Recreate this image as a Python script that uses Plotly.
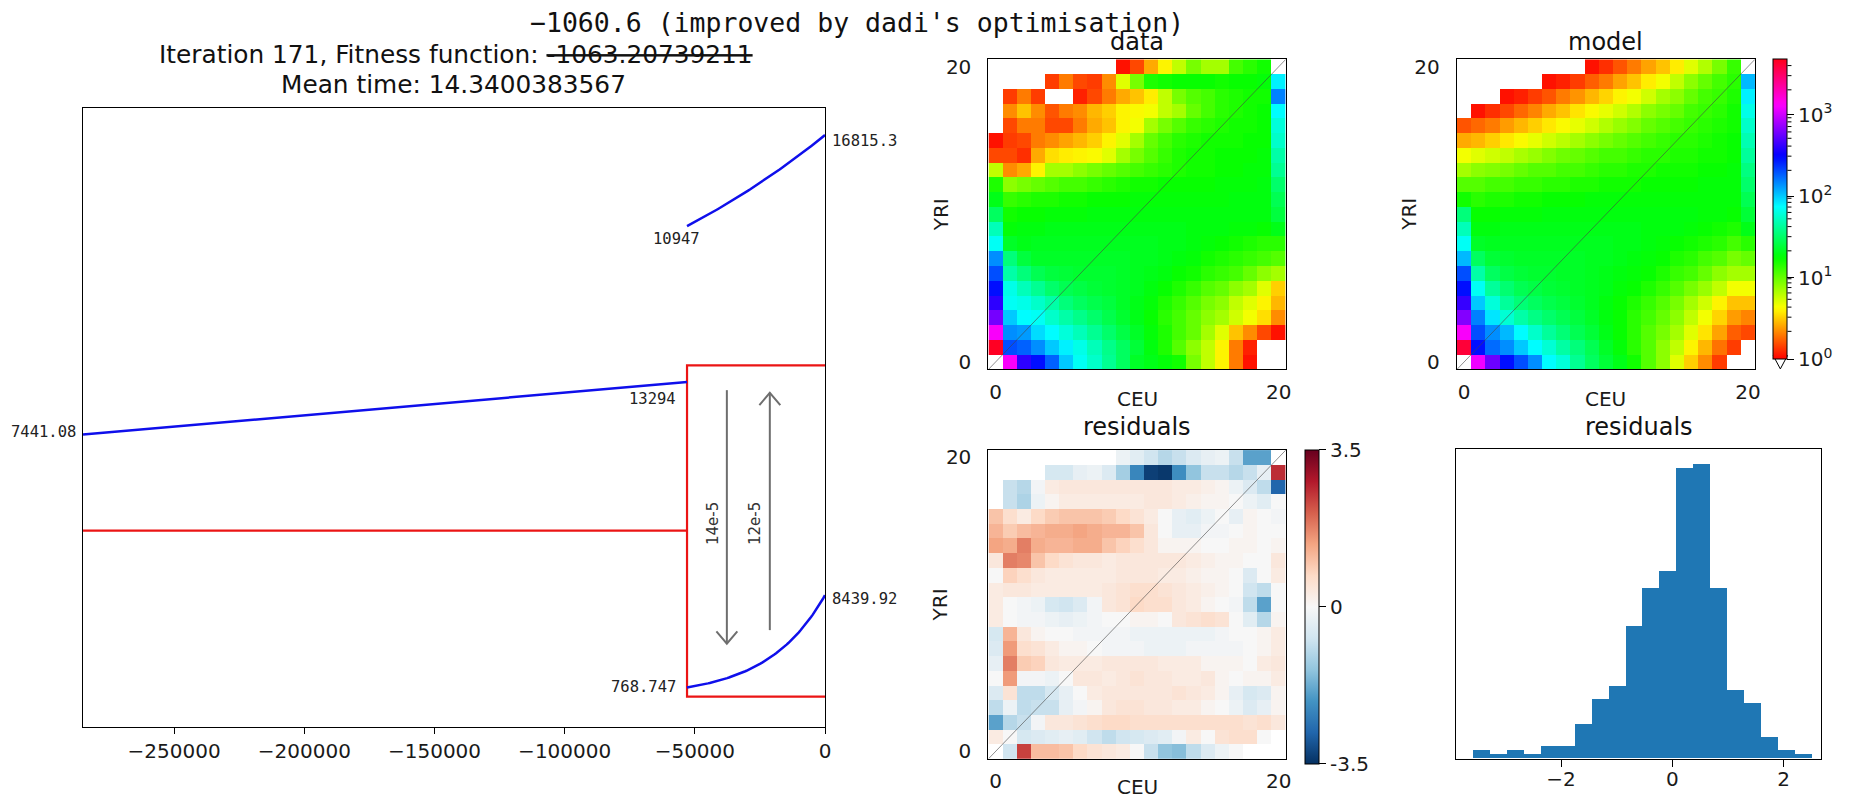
import numpy as np
import plotly.graph_objects as go

nan = float("nan")

# ---------------- demographic model (years / individuals) ----------------
T_ANC = -285000
T_SPLIT = -53000
anc_sizes = [7441.08, 13294]
pop1_sizes = [10947, 16815.3]
pop2_sizes = [768.747, 8439.92]
mig_labels = ["14e-5", "12e-5"]

time_ticks = [-250000, -200000, -150000, -100000, -50000, 0]
time_tick_text = ["\u2212250000", "\u2212200000", "\u2212150000", "\u2212100000", "\u221250000", "0"]

# ---------------- joint SFS (rows: YRI 20 -> 0, columns: CEU 0 -> 20) ----------------
data_sfs = [
    [nan, nan, nan, nan, nan, nan, nan, nan, nan, 1.1, 1.5, 2.6, 4, 6, 9, 7, 7, 12, 14, 16, nan],
    [nan, nan, nan, nan, 1.4, 2.0, 1.5, 1.4, 2.2, 5, 9, 15, 16, 17, 17, 17, 16, 17, 17, 18, 80],
    [nan, 1.4, 2.0, 1.4, nan, nan, 1.2, 1.5, 2.0, 2.6, 3.0, 3.8, 6, 9, 11, 12, 14, 15, 16, 16, 150],
    [nan, 2.2, 3.0, 2.2, 1.6, 2.0, 2.2, 2.8, 3.2, 4, 4.2, 4.5, 6, 7, 10, 12, 14, 15, 16, 17, 75],
    [nan, 1.5, 2.0, 2.0, 1.5, 1.5, 2.0, 2.6, 3.0, 4, 4.5, 7, 9, 11, 13, 14, 15, 16, 16, 17, 60],
    [1.1, 1.4, 1.5, 2.0, 2.2, 2.5, 2.8, 3.2, 4, 5, 7, 10, 12, 14, 15, 16, 16, 16, 17, 17, 55],
    [1.5, 1.5, 1.3, 2.6, 3.5, 3.8, 4, 4.2, 5, 7, 9, 11, 13, 15, 16, 16, 17, 17, 17, 18, 45],
    [6, 2.2, 2.6, 4, 7, 7, 8, 9, 10, 11, 12, 13, 14, 15, 16, 16, 17, 17, 18, 18, 40],
    [15, 8, 9, 10, 11, 12, 12, 13, 14, 15, 16, 16, 17, 17, 17, 17, 18, 18, 18, 19, 32],
    [20, 13, 14, 15, 15, 16, 16, 17, 17, 17, 18, 18, 18, 18, 18, 18, 18, 19, 19, 19, 28],
    [30, 16, 17, 17, 18, 18, 18, 19, 19, 19, 19, 19, 19, 19, 19, 19, 19, 19, 19, 19, 25],
    [50, 18, 19, 19, 20, 20, 20, 20, 20, 20, 20, 20, 20, 20, 19, 19, 19, 18, 18, 17, 20],
    [70, 22, 20, 21, 21, 21, 21, 21, 21, 21, 21, 21, 20, 20, 19, 18, 17, 16, 15, 14, 14],
    [140, 35, 25, 22, 22, 22, 22, 22, 22, 22, 21, 21, 20, 19, 18, 16, 15, 14, 13, 12, 11],
    [200, 45, 35, 28, 25, 24, 23, 23, 23, 22, 21, 20, 19, 17, 16, 14, 13, 12, 10, 8, 7],
    [290, 65, 50, 40, 32, 28, 26, 24, 23, 22, 21, 19, 17, 15, 13, 11, 10, 8, 7, 5, 3.2],
    [400, 70, 65, 55, 45, 35, 30, 27, 25, 22, 20, 18, 15, 13, 11, 9, 8, 6, 5, 4, 2.8],
    [600, 100, 75, 70, 55, 45, 38, 32, 27, 23, 20, 17, 14, 12, 10, 8, 7, 5.5, 4.5, 3.5, 2.2],
    [1300, 140, 130, 90, 75, 60, 50, 40, 32, 26, 22, 18, 15, 12, 10, 7, 5, 3.0, 2.2, 1.5, 1.1],
    [4500, 200, 180, 140, 100, 80, 65, 50, 38, 30, 24, 19, 15, 11, 8, 6, 4, 2.0, 1.2, nan, nan],
    [nan, 1300, 400, 290, 180, 100, 70, 55, 40, 30, 22, 20, 18, 16, 9, 6, 4, 2.0, 1.1, nan, nan],
]

model_sfs = [
    [nan, nan, nan, nan, nan, nan, nan, nan, nan, 1.1, 1.3, 1.6, 2.0, 2.5, 3.0, 3.8, 5, 6.5, 9, 13, nan],
    [nan, nan, nan, nan, nan, nan, 1.1, 1.2, 1.4, 1.7, 2.0, 2.5, 3.0, 3.8, 4.5, 6, 8, 10, 12, 14, 110],
    [nan, nan, nan, 1.1, 1.2, 1.4, 1.6, 2.0, 2.3, 2.8, 3.3, 4, 4.5, 5.5, 7, 8, 10, 12, 13, 15, 80],
    [nan, 1.1, 1.3, 1.5, 1.8, 2.1, 2.6, 3.0, 3.6, 4.2, 4.8, 5.5, 6.5, 8, 9, 10, 12, 13, 14, 16, 65],
    [1.6, 1.8, 2.0, 2.4, 2.8, 3.2, 3.7, 4.2, 4.8, 5.5, 6.5, 7.5, 8.5, 10, 11, 12, 13, 14, 15, 16, 55],
    [2.6, 2.8, 3.2, 3.7, 4.2, 4.8, 5.5, 6.2, 7, 8, 9, 10, 11, 12, 13, 14, 14, 15, 16, 17, 48],
    [4.5, 5, 5.5, 6, 6.8, 7.5, 8.5, 9.5, 10, 11, 12, 12, 13, 14, 14, 15, 15, 16, 16, 17, 42],
    [7, 8, 8.5, 9, 10, 11, 11, 12, 12, 13, 14, 14, 15, 15, 16, 16, 16, 17, 17, 18, 36],
    [11, 11, 12, 12, 13, 13, 14, 14, 15, 15, 16, 16, 16, 17, 17, 17, 17, 18, 18, 18, 32],
    [16, 14, 15, 15, 16, 16, 17, 17, 17, 18, 18, 18, 18, 18, 18, 18, 18, 18, 18, 18, 28],
    [35, 17, 17, 18, 18, 18, 19, 19, 19, 19, 19, 19, 19, 19, 19, 19, 19, 18, 18, 17, 24],
    [50, 19, 19, 20, 20, 20, 20, 20, 20, 20, 20, 20, 20, 19, 19, 19, 18, 17, 16, 15, 20],
    [70, 22, 21, 21, 21, 21, 21, 21, 21, 21, 21, 20, 20, 19, 18, 17, 16, 15, 14, 12, 14],
    [110, 30, 24, 23, 22, 22, 22, 22, 22, 21, 21, 20, 19, 18, 17, 15, 14, 12, 11, 9, 10],
    [200, 45, 30, 26, 24, 23, 23, 22, 22, 21, 20, 19, 18, 17, 15, 13, 12, 10, 8, 7, 7],
    [290, 70, 42, 33, 28, 26, 24, 23, 22, 21, 20, 18, 17, 15, 13, 11, 9, 7.5, 6, 4.5, 4.5],
    [420, 100, 60, 42, 34, 30, 27, 25, 23, 21, 19, 17, 15, 13, 11, 9, 7, 5.5, 4, 3, 3.0],
    [650, 150, 85, 58, 45, 37, 32, 28, 25, 22, 19, 17, 14, 12, 10, 8, 6, 4.5, 3.3, 2.4, 2.1],
    [1300, 200, 140, 110, 75, 55, 42, 34, 28, 24, 20, 17, 14, 11, 9, 7, 5, 3.6, 2.5, 1.7, 1.5],
    [4000, 290, 170, 140, 100, 75, 58, 44, 35, 28, 22, 18, 14, 11, 8, 6, 4, 2.8, 1.9, 1.4, nan],
    [nan, 1200, 570, 290, 200, 140, 75, 60, 40, 30, 24, 20, 16, 11, 8, 5, 3.2, 2.2, 1.4, nan, nan],
]

residuals = [
    [nan, nan, nan, nan, nan, nan, nan, nan, nan, -0.2, -0.4, -0.7, -1.0, -0.8, -0.5, -0.3, -0.2, -0.8, -1.9, -1.9, nan],
    [nan, nan, nan, nan, -0.6, -0.6, -0.3, -0.2, -0.5, -1.2, -2.3, -3.3, -3.4, -2.2, -1.4, -0.8, -0.8, -1.0, -0.8, -0.3, 2.6],
    [nan, -0.8, -1.0, -0.1, 0.3, 0.4, 0.4, 0.4, 0.4, 0.4, 0.4, 0.4, 0.4, 0.3, 0.3, 0.2, 0.1, -0.2, -0.5, -0.9, -2.8],
    [nan, -0.8, -1.1, -0.2, 0.1, 0.3, 0.3, 0.3, 0.3, 0.3, 0.3, 0.4, 0.4, 0.3, 0.2, 0.1, 0.1, 0.0, -0.2, -0.4, 0.0],
    [1.0, 0.6, 0.3, 0.7, 0.9, 1.0, 1.0, 1.0, 0.9, 0.7, 0.5, 0.3, 0.0, -0.3, -0.4, -0.2, 0.0, -0.3, 0.1, 0.0, -0.1],
    [1.2, 0.9, 1.1, 1.2, 1.3, 1.3, 1.4, 1.3, 1.2, 1.2, 1.0, 0.4, 0.0, -0.3, -0.3, -0.1, -0.1, 0.0, 0.1, 0.0, 0.0],
    [1.4, 1.3, 1.8, 1.3, 1.2, 1.2, 1.3, 1.3, 1.0, 0.8, 0.6, 0.4, 0.1, 0.1, 0.1, 0.0, 0.0, 0.1, 0.1, 0.0, 0.1],
    [0.4, 1.8, 1.7, 1.0, 0.7, 0.5, 0.4, 0.4, 0.3, 0.4, 0.4, 0.4, 0.4, 0.4, 0.3, 0.2, 0.1, 0.1, 0.0, 0.0, 0.4],
    [0.0, 0.8, 0.6, 0.4, 0.3, 0.3, 0.3, 0.3, 0.3, 0.4, 0.4, 0.4, 0.3, 0.3, 0.2, 0.1, 0.1, 0.0, -0.5, 0.0, 0.3],
    [0.3, 0.4, 0.4, 0.3, 0.3, 0.3, 0.3, 0.3, 0.4, 0.5, 0.6, 0.6, 0.5, 0.4, 0.3, 0.2, 0.1, 0.0, -0.7, -0.9, 0.0],
    [0.3, 0.0, -0.1, -0.2, -0.6, -0.7, -0.5, -0.1, 0.4, 0.5, 0.7, 0.6, 0.6, 0.4, 0.3, 0.1, 0.0, -0.1, -0.9, -1.9, 0.0],
    [0.3, 0.0, -0.1, -0.1, -0.2, -0.3, -0.2, -0.1, 0.0, 0.0, 0.1, 0.1, 0.0, 0.4, 0.5, 0.6, 0.5, 0.0, -0.4, -1.0, 0.1],
    [-0.6, 1.2, 0.4, 0.1, 0.0, 0.0, -0.1, -0.1, -0.1, -0.1, -0.2, -0.2, -0.2, -0.2, -0.2, -0.2, -0.1, 0.0, 0.0, 0.1, 0.3],
    [-0.5, 1.5, 0.6, 0.5, 0.3, 0.1, 0.1, 0.0, -0.1, -0.1, -0.1, -0.2, -0.2, -0.2, -0.1, -0.1, -0.1, -0.1, 0.0, 0.1, 0.3],
    [-0.3, 1.8, 0.9, 0.8, 0.4, 0.3, 0.3, 0.3, 0.4, 0.4, 0.4, 0.4, 0.3, 0.3, 0.3, 0.1, 0.1, 0.1, 0.0, 0.3, 0.4],
    [0.0, 1.5, -0.1, -0.1, -0.2, 0.0, 0.4, 0.4, 0.3, 0.4, 0.5, 0.4, 0.4, 0.3, 0.3, 0.4, 0.1, 0.0, 0.1, 0.1, 0.3],
    [-0.5, 0.5, -0.9, -0.9, -0.6, -0.3, 0.0, 0.3, 0.4, 0.4, 0.4, 0.4, 0.4, 0.5, 0.4, 0.3, 0.1, -0.3, -0.6, -0.5, 0.1],
    [-0.9, -0.2, -0.9, -0.8, -0.8, -0.3, -0.1, 0.1, 0.4, 0.5, 0.5, 0.4, 0.4, 0.3, 0.3, 0.1, 0.0, -0.2, -0.5, -0.3, 0.1],
    [-1.9, -1.0, -0.8, -0.1, 0.4, 0.4, 0.5, 0.6, 0.7, 0.7, 0.6, 0.6, 0.6, 0.6, 0.6, 0.6, 0.6, 0.6, 0.5, 0.6, 0.4],
    [0.3, 0.0, -0.6, -0.5, -0.4, -0.3, -0.4, -0.7, -0.9, -0.7, -0.6, -0.5, -0.4, -0.1, 0.3, 0.0, 0.5, 0.6, 0.6, 0.0, nan],
    [nan, -0.7, 2.4, 1.1, 1.1, 1.0, 0.7, 0.5, 0.4, 0.3, 0.0, -0.8, -1.4, -1.5, -0.9, -0.5, -0.2, 0.0, nan, nan, nan],
]

# residual histogram: 20 bins
hist_counts = [2, 1, 2, 1, 3, 3, 8, 14, 17, 31, 40, 44, 68, 69, 40, 16, 13, 5, 2, 1]
hist_first_edge = -3.573
hist_bin_width = 0.3041

sample_index = list(range(21))
LOG_MAX = 3.68
RESID_LIM = 3.5

# ---------------- page geometry ----------------
W, H = 1849, 804


def fx(p):
    return p / W


def fy(p):
    return 1 - p / H


TICK_FONT = dict(family="DejaVu Sans", size=20, color="#1a1a1a")
TITLE_FONT = dict(family="DejaVu Sans", size=24, color="#111111")
SUPTITLE_FONT = dict(family="DejaVu Sans", size=24.8, color="#111111")
LABEL_FONT = dict(family="DejaVu Sans Mono", size=15.5, color="#222222")

# matplotlib-style hsv map and RdBu_r map
hsv_scale = [
    [0.0, "rgb(255,0,0)"], [0.15873, "rgb(255,239,0)"], [0.174603, "rgb(247,255,0)"],
    [0.333333, "rgb(8,255,0)"], [0.349206, "rgb(0,255,16)"], [0.507937, "rgb(0,255,255)"],
    [0.666667, "rgb(0,16,255)"], [0.68254, "rgb(8,0,255)"], [0.84127, "rgb(247,0,255)"],
    [0.857143, "rgb(255,0,239)"], [1.0, "rgb(255,0,24)"],
]
rdbu_r = [
    [0.0, "#053061"], [0.1, "#2166ac"], [0.2, "#4393c3"], [0.3, "#92c5de"], [0.4, "#d1e5f0"],
    [0.5, "#f7f7f7"], [0.6, "#fddbc7"], [0.7, "#f4a582"], [0.8, "#d6604d"], [0.9, "#b2182b"],
    [1.0, "#67001f"],
]

fig = go.Figure()

# ---------------- left: demographic model drawing ----------------
# each population is drawn on its own band: y = offset + scale * size
BANDS = {"anc": (228.2, 0.009107), "pop1": (334.8, 0.01573), "pop2": (30.6, 0.012176)}
ANC_FLOOR = 198.7
BOX_TOP = 366.0
BOX_BOTTOM = 30.6
DRAW_HEIGHT = 626.7


def band_y(band, size):
    off, sc = BANDS[band]
    return off + sc * np.asarray(size, dtype=float)


def exp_growth(n0, n1, t0, t1, steps=80):
    t = np.linspace(t0, t1, steps)
    frac = (t - t0) / (t1 - t0)
    return t, n0 * (n1 / n0) ** frac


RED = "rgb(235,20,20)"
BLUE = "rgb(15,15,235)"

# red population structure lines
fig.add_trace(go.Scatter(x=[T_ANC, T_SPLIT], y=[ANC_FLOOR, ANC_FLOOR], mode="lines",
                         line=dict(color=RED, width=2.2), xaxis="x", yaxis="y", hoverinfo="skip"))
fig.add_trace(go.Scatter(x=[0, T_SPLIT, T_SPLIT, 0], y=[BOX_TOP, BOX_TOP, BOX_BOTTOM, BOX_BOTTOM],
                         mode="lines", line=dict(color=RED, width=2.2), xaxis="x", yaxis="y",
                         hoverinfo="skip"))

# ancestral population size
fig.add_trace(go.Scatter(x=[T_ANC, T_SPLIT], y=band_y("anc", anc_sizes), mode="lines",
                         line=dict(color=BLUE, width=2.5), xaxis="x", yaxis="y", hoverinfo="skip"))
# descendant populations, exponential growth after the split
t1, n1 = exp_growth(pop1_sizes[0], pop1_sizes[1], T_SPLIT, 0)
fig.add_trace(go.Scatter(x=t1, y=band_y("pop1", n1), mode="lines",
                         line=dict(color=BLUE, width=2.5), xaxis="x", yaxis="y", hoverinfo="skip"))
t2, n2 = exp_growth(pop2_sizes[0], pop2_sizes[1], T_SPLIT, 0)
fig.add_trace(go.Scatter(x=t2, y=band_y("pop2", n2), mode="lines",
                         line=dict(color=BLUE, width=2.5), xaxis="x", yaxis="y", hoverinfo="skip"))

# migration arrows
px_per_year = (827.7 - 83.3) / (0 - T_ANC)
head_dx = 10.5 / px_per_year
head_dy = 12.5
ARROWS = [(-37700, 341.0, 84.3), (-21200, 98.0, 338.3)]  # x, tail y, tip y
for ax_, y_tail, y_tip in ARROWS:
    d = 1 if y_tip > y_tail else -1
    xs = [ax_, ax_, None, ax_ - head_dx, ax_, ax_ + head_dx]
    ys = [y_tail, y_tip, None, y_tip - d * head_dy, y_tip, y_tip - d * head_dy]
    fig.add_trace(go.Scatter(x=xs, y=ys, mode="lines", line=dict(color="rgb(110,110,110)", width=2),
                             xaxis="x", yaxis="y", hoverinfo="skip"))

# ---------------- SFS heatmaps ----------------
def log_counts(rows):
    arr = np.array(rows[::-1], dtype=float)
    return np.log10(arr)


fig.add_trace(go.Heatmap(z=log_counts(data_sfs), x=sample_index, y=sample_index,
                         colorscale=hsv_scale, zmin=0, zmax=LOG_MAX, showscale=False,
                         xaxis="x2", yaxis="y2", hoverinfo="skip"))
fig.add_trace(go.Heatmap(
    z=log_counts(model_sfs), x=sample_index, y=sample_index, colorscale=hsv_scale,
    zmin=0, zmax=LOG_MAX, xaxis="x3", yaxis="y3", hoverinfo="skip",
    colorbar=dict(x=fx(1779), xanchor="left", xpad=0, y=fy(55), yanchor="top", ypad=0,
                  len=300, lenmode="pixels", thickness=14.3, thicknessmode="pixels",
                  outlinewidth=1, outlinecolor="black", borderwidth=0,
                  tickmode="array", tickvals=[0, 1, 2, 3],
                  ticktext=["10<sup>0</sup>", "10<sup>1</sup>", "10<sup>2</sup>", "10<sup>3</sup>"],
                  ticks="outside", ticklen=7, tickwidth=1, tickcolor="black", tickfont=TICK_FONT)))
fig.add_trace(go.Heatmap(
    z=np.array(residuals[::-1], dtype=float), x=sample_index, y=sample_index,
    colorscale=rdbu_r, zmin=-RESID_LIM, zmax=RESID_LIM, xaxis="x4", yaxis="y4", hoverinfo="skip",
    colorbar=dict(x=fx(1309), xanchor="left", xpad=0, y=fy(450.3), yanchor="top", ypad=0,
                  len=313.5, lenmode="pixels", thickness=14.3, thicknessmode="pixels",
                  outlinewidth=1, outlinecolor="black", borderwidth=0,
                  tickmode="array", tickvals=[-RESID_LIM, 0, RESID_LIM],
                  ticktext=["-3.5", "0", "3.5"],
                  ticks="outside", ticklen=7, tickwidth=1, tickcolor="black", tickfont=TICK_FONT)))

# diagonal reference lines
for xa, ya in (("x2", "y2"), ("x3", "y3"), ("x4", "y4")):
    fig.add_trace(go.Scatter(x=[-0.5, 20.5], y=[-0.5, 20.5], mode="lines",
                             line=dict(color="rgba(70,70,70,0.6)", width=1),
                             xaxis=xa, yaxis=ya, hoverinfo="skip"))

# ---------------- residual histogram ----------------
bin_centers = [hist_first_edge + hist_bin_width * (i + 0.5) for i in range(len(hist_counts))]
fig.add_trace(go.Bar(x=bin_centers, y=hist_counts, width=hist_bin_width,
                     marker=dict(color="#1f77b4", line=dict(width=0)),
                     xaxis="x5", yaxis="y5", hoverinfo="skip"))

# ---------------- axes ----------------
frame = dict(showline=True, mirror=True, linecolor="black", linewidth=1.3,
             showgrid=False, zeroline=False)
hm_common = dict(tickmode="array", tickvals=[0, 20], ticktext=["0", "20"], ticks="outside",
                 tickcolor="rgba(0,0,0,0)", tickfont=TICK_FONT)


def hm_axes(xdom, ydom, xa, ya):
    return {
        xa: dict(domain=[fx(xdom[0]), fx(xdom[1])], range=[-0.5, 20.5], anchor=ya.replace("axis", ""),
                 ticklen=4, **frame, **hm_common),
        ya: dict(domain=[fy(ydom[1]), fy(ydom[0])], range=[-0.5, 20.5], anchor=xa.replace("axis", ""),
                 ticklen=12, **frame, **hm_common),
    }


layout_axes = {
    "xaxis": dict(domain=[fx(83.3), fx(827.7)], range=[T_ANC, 0], anchor="y", **frame,
                  tickmode="array", tickvals=time_ticks, ticktext=time_tick_text,
                  ticks="outside", ticklen=6, tickwidth=1.2, tickcolor="black", tickfont=TICK_FONT),
    "yaxis": dict(domain=[fy(731), fy(104.3)], range=[0, DRAW_HEIGHT], anchor="x", **frame,
                  showticklabels=False, ticks=""),
    "xaxis5": dict(domain=[fx(1461), fx(1826.7)], range=[-3.885, 2.670], anchor="y5", **frame,
                   tickmode="array", tickvals=[-2, 0, 2], ticktext=["\u22122", "0", "2"],
                   ticks="outside", ticklen=7, tickwidth=1.2, tickcolor="black", tickfont=TICK_FONT,
                   ticklabelstandoff=-5),
    "yaxis5": dict(domain=[fy(763.3), fy(450)], range=[0, 72.45], anchor="x5", **frame,
                   showticklabels=False, ticks=""),
}
layout_axes.update(hm_axes((991.7, 1290), (55, 369), "xaxis2", "yaxis2"))
layout_axes.update(hm_axes((1461.7, 1760.7), (55, 369), "xaxis3", "yaxis3"))
layout_axes.update(hm_axes((991.7, 1290), (450.7, 763.3), "xaxis4", "yaxis4"))

# ---------------- text ----------------
ann = []


def paper_text(text, x, y, font, **kw):
    ann.append(dict(text=text, x=fx(x), y=fy(y), xref="paper", yref="paper", showarrow=False,
                    font=font, xanchor=kw.pop("xanchor", "center"), yanchor=kw.pop("yanchor", "middle"),
                    **kw))


paper_text("\u22121060.6 (improved by dadi's optimisation)", 860, 18,
           dict(family="DejaVu Sans Mono", size=26.5, color="#111111"))
paper_text("Iteration 171, Fitness function: <s>-1063.20739211</s>", 457, 50, SUPTITLE_FONT)
paper_text("Mean time: 14.3400383567", 455, 81, SUPTITLE_FONT)

paper_text("data", 1141, 37, TITLE_FONT)
paper_text("model", 1611, 37, TITLE_FONT)
paper_text("residuals", 1141, 427, TITLE_FONT)
paper_text("residuals", 1644, 427, TITLE_FONT)

for cx, cy in ((1141, 399), (1611, 399), (1141, 792)):
    paper_text("CEU", cx, cy, TICK_FONT)
for cx, cy in ((944, 212), (1414, 212), (944, 607)):
    paper_text("YRI", cx, cy, TICK_FONT, textangle=-90)


def size_label(text, x, y, xanchor, xshift, yshift):
    ann.append(dict(text=text, x=x, y=y, xref="x", yref="y", showarrow=False, font=LABEL_FONT,
                    xanchor=xanchor, yanchor="middle", xshift=xshift, yshift=yshift))


size_label(f"{anc_sizes[0]:g}", T_ANC, float(band_y("anc", anc_sizes[0])), "right", -5, 3)
size_label(f"{anc_sizes[1]:g}", T_SPLIT, float(band_y("anc", anc_sizes[1])), "right", -9, -17.5)
size_label(f"{pop1_sizes[0]:g}", T_SPLIT, float(band_y("pop1", pop1_sizes[0])), "center", -11, -12.7)
size_label(f"{pop1_sizes[1]:g}", 0, float(band_y("pop1", pop1_sizes[1])), "left", 5, -6.3)
size_label(f"{pop2_sizes[0]:g}", T_SPLIT, float(band_y("pop2", pop2_sizes[0])), "right", -9, 0.5)
size_label(f"{pop2_sizes[1]:g}", 0, float(band_y("pop2", pop2_sizes[1])), "left", 5, -3.4)

for (ax_, _, _), lab, lx in zip(ARROWS, mig_labels, (-42800, -26700)):
    ann.append(dict(text=lab, x=lx, y=206, xref="x", yref="y", showarrow=False, textangle=-90,
                    font=dict(family="DejaVu Sans", size=15, color="#333333"),
                    xanchor="center", yanchor="middle"))

# ---------------- colorbar details: minor ticks and min-extension triangle ----------------
shapes = []
cb_top, cb_bottom = 55.0, 355.0
for dec in range(4):
    for m in range(2, 10):
        lv = np.log10(m * 10 ** dec)
        if lv > LOG_MAX:
            continue
        py = cb_bottom - (cb_bottom - cb_top) * lv / LOG_MAX
        shapes.append(dict(type="line", xref="paper", yref="paper", x0=fx(1793.3), x1=fx(1797.3),
                           y0=fy(py), y1=fy(py), line=dict(color="black", width=1)))
shapes.append(dict(type="path", xref="paper", yref="paper",
                   path=f"M {fx(1779)},{fy(355)} L {fx(1793.3)},{fy(355)} L {fx(1786.15)},{fy(368.5)} Z",
                   fillcolor="white", line=dict(color="black", width=1)))

fig.update_layout(
    width=W, height=H, margin=dict(l=0, r=0, t=0, b=0),
    paper_bgcolor="white", plot_bgcolor="white", showlegend=False,
    font=dict(family="DejaVu Sans", color="#111111"),
    annotations=ann, shapes=shapes, bargap=0, hovermode=False,
    **layout_axes,
)

fig.write_html("out.html")
